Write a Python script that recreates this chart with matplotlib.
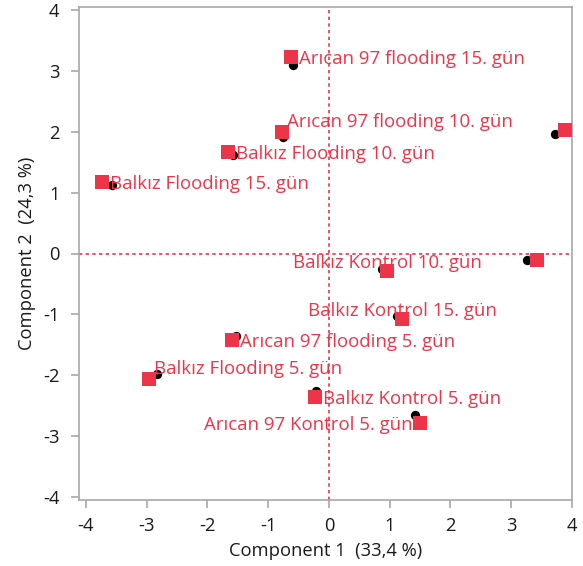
import numpy as np
import matplotlib.pyplot as plt

plt.rcParams['font.family'] = ['Open Sans', 'DejaVu Sans']

# red squares (labelled samples)
labels = ['Arıcan 97 flooding 15. gün', 'Arıcan 97 flooding 10. gün', 'Balkız Flooding 10. gün',
          'Balkız Flooding 15. gün', '', '', 'Balkız Kontrol 10. gün', 'Balkız Kontrol 15. gün',
          'Arıcan 97 flooding 5. gün', 'Balkız Flooding 5. gün', 'Balkız Kontrol 5. gün',
          'Arıcan 97 Kontrol 5. gün']
sq_x = [-0.62, -0.77, -1.66, -3.73, 3.88, 3.42, 0.95, 1.20, -1.60, -2.96, -0.23, 1.49]
sq_y = [3.23, 2.00, 1.67, 1.18, 2.03, -0.11, -0.28, -1.07, -1.42, -2.07, -2.36, -2.78]

# black circles
dot_x = [-0.60, -0.76, -1.58, -3.57, 3.72, 3.26, 0.88, 1.12, -1.53, -2.83, -0.21, 1.42]
dot_y = [3.10, 1.92, 1.62, 1.13, 1.97, -0.10, -0.26, -1.02, -1.36, -1.98, -2.26, -2.66]

# where each label goes relative to its square
place = ['right', 'upright', 'right', 'right', None, None, 'above', 'above',
         'right', 'upright', 'right', 'left']

red = '#EE3448'
grey = '#A8A8A8'
ink = '#1a1a1a'

fig = plt.figure(figsize=(5.83, 5.66), dpi=100)
ax = fig.add_axes([79/583, 1-500/566, (572-79)/583, (500-7)/566])

ax.axhline(0, color=red, ls=(0, (2, 2)), lw=1.2, zorder=1)
ax.axvline(0, color=red, ls=(0, (2, 2)), lw=1.2, zorder=1)

ax.scatter(dot_x, dot_y, s=45, color='black', marker='o', zorder=3, linewidths=0)
ax.scatter(sq_x, sq_y, s=110, color=red, marker='s', zorder=4, linewidths=0)

offs = {'right': ((8, -2), 'left', 'center'),
        'upright': ((5, 10), 'left', 'center'),
        'above': ((1, 8), 'center', 'center'),
        'left': ((-7, -2), 'right', 'center')}
for lab, x, y, p in zip(labels, sq_x, sq_y, place):
    if p is None:
        continue
    (dx, dy), ha, va = offs[p]
    ax.annotate(lab, (x, y), xytext=(dx, dy), textcoords='offset pixels',
                ha=ha, va=va, color=red, fontsize=13.4, zorder=5)

ax.set_xlim(-4.115, 4.0)
ax.set_ylim(-4.05, 4.05)
ax.set_xticks(np.arange(-4, 5))
ax.set_yticks(np.arange(-4, 5))
ax.set_xticklabels([str(v) for v in range(-4, 5)])
ax.set_yticklabels([str(v) for v in range(-4, 5)])

for s in ax.spines.values():
    s.set_color(grey)
    s.set_linewidth(1.2)
ax.tick_params(colors=grey, labelcolor=ink, labelsize=13.2, length=6, width=1.2)
ax.tick_params(axis='y', pad=8)
ax.tick_params(axis='x', pad=6)
ax.get_xticklines()[8].set_color(red)

ax.set_xlabel('Component 1  (33,4 %)', fontsize=13.2, color=ink, labelpad=5)
ax.set_ylabel('Component 2  (24,3 %)', fontsize=13.2, color=ink, labelpad=5)

fig.savefig('out.png', dpi=100)
